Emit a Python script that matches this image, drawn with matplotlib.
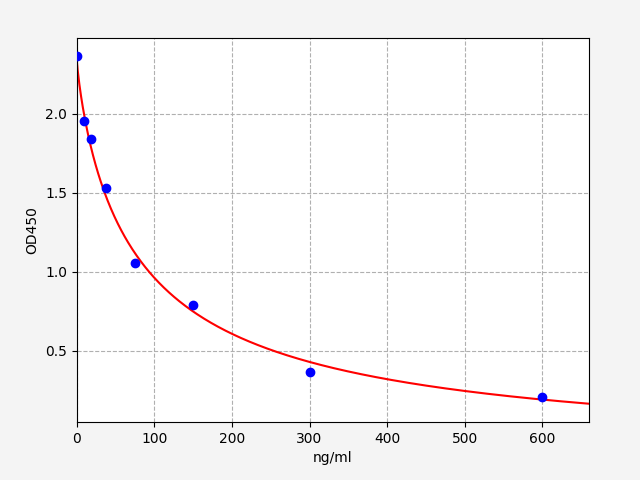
import numpy as np
import matplotlib
matplotlib.use("Agg")
import matplotlib.pyplot as plt

conc = [0, 9.375, 18.75, 37.5, 75, 150, 300, 600]
od = [2.367, 1.956, 1.842, 1.53, 1.057, 0.79, 0.367, 0.209]

# 4PL curve parameters
fit_a = 2.34
fit_b = 0.855
fit_c = 81.9
fit_d = -0.2

def four_pl(x):
    return fit_d + (fit_a - fit_d) / (1 + (x / fit_c) ** fit_b)

fig = plt.figure(figsize=(6.4, 4.8), dpi=100, facecolor='#f4f4f4')
ax = fig.add_axes([0.12, 0.121, 0.8, 0.8])
xs = np.linspace(0, 660, 600)
ax.plot(xs, four_pl(xs), color='red', zorder=2)
ax.plot(conc, od, 'o', color='blue', zorder=3)
ax.set_xlim(0, 660)
ax.set_ylim(0.05, 2.48)
ax.set_yticks([0.5, 1.0, 1.5, 2.0])
ax.grid(True, linestyle='--', color='#b0b0b0')
ax.set_axisbelow(True)
ax.set_xlabel('ng/ml')
ax.set_ylabel('OD450')
fig.savefig('out.png')
